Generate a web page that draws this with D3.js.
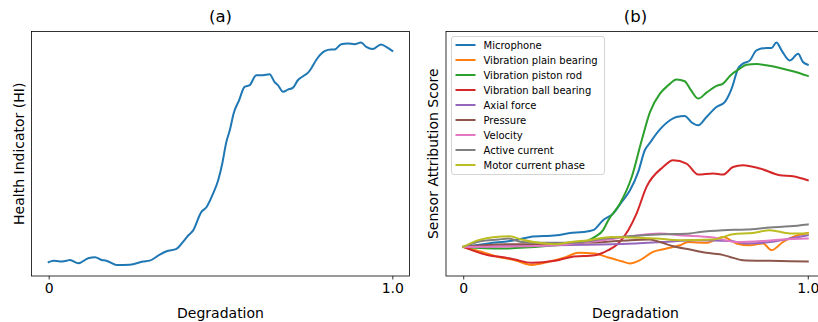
<!DOCTYPE html>
<html>
<head>
<meta charset="utf-8">
<script src="https://cdn.jsdelivr.net/npm/d3@7"></script>
<style>
  body { margin: 0; background: #fff; }
  svg { display: block; font-family: "DejaVu Sans", sans-serif; }
</style>
</head>
<body>
<svg id="chart" width="818" height="322"></svg>
<script>
// panel (a): health indicator vs degradation
const hiValues = [
  [0, 0.015], [0.014, 0.022], [0.033, 0.018], [0.052, 0.022], [0.062, 0.025], [0.086, 0.010],
  [0.115, 0.033], [0.135, 0.037], [0.154, 0.025], [0.168, 0.022], [0.197, 0.003], [0.236, 0.004],
  [0.275, 0.018], [0.294, 0.022], [0.323, 0.049], [0.343, 0.064], [0.372, 0.075], [0.391, 0.106],
  [0.406, 0.135], [0.420, 0.157], [0.444, 0.240], [0.459, 0.262], [0.478, 0.322], [0.493, 0.382],
  [0.505, 0.457], [0.517, 0.555], [0.527, 0.607], [0.538, 0.682], [0.554, 0.742], [0.570, 0.802],
  [0.585, 0.810], [0.604, 0.855], [0.623, 0.855], [0.643, 0.859], [0.657, 0.825], [0.667, 0.810],
  [0.682, 0.780], [0.696, 0.790], [0.711, 0.799], [0.725, 0.832], [0.740, 0.850], [0.754, 0.865],
  [0.764, 0.885], [0.778, 0.922], [0.803, 0.963], [0.822, 0.970], [0.832, 0.970], [0.851, 0.994],
  [0.870, 0.997], [0.890, 0.994], [0.909, 1.001], [0.924, 0.982], [0.943, 0.972], [0.967, 0.993],
  [0.982, 0.982], [1.0, 0.964]
];

// panel (b): sensor attribution scores
const sensorNames = [
  "Microphone", "Vibration plain bearing", "Vibration piston rod", "Vibration ball bearing",
  "Axial force", "Pressure", "Velocity", "Active current", "Motor current phase"
];
const sensorColors = ["#1f77b4", "#ff7f0e", "#2ca02c", "#d62728", "#9467bd", "#8c564b", "#e377c2", "#7f7f7f", "#bcbd22"];

const microphone = [
  [0, 0], [0.073, 0.017], [0.150, 0.033], [0.194, 0.049], [0.271, 0.057], [0.310, 0.068],
  [0.348, 0.073], [0.377, 0.082], [0.406, 0.131], [0.435, 0.163], [0.460, 0.220], [0.484, 0.277],
  [0.508, 0.367], [0.527, 0.473], [0.542, 0.510], [0.571, 0.575], [0.600, 0.620], [0.619, 0.636],
  [0.643, 0.641], [0.663, 0.609], [0.682, 0.595], [0.706, 0.636], [0.735, 0.685], [0.759, 0.709],
  [0.779, 0.775], [0.798, 0.873], [0.812, 0.897], [0.832, 0.913], [0.851, 0.962], [0.880, 0.974],
  [0.895, 0.974], [0.909, 1.0], [0.924, 0.962], [0.948, 0.913], [0.972, 0.946], [0.986, 0.905],
  [1.0, 0.892]
];
const plainBearing = [
  [0, 0], [0.053, -0.024], [0.102, -0.049], [0.150, -0.065], [0.198, -0.088], [0.247, -0.073],
  [0.295, -0.052], [0.334, -0.029], [0.382, -0.032], [0.421, -0.052], [0.460, -0.070], [0.484, -0.081],
  [0.513, -0.065], [0.551, -0.024], [0.590, -0.008], [0.629, 0.008], [0.653, 0.024], [0.706, 0.020],
  [0.754, 0.049], [0.793, 0.017], [0.832, 0.008], [0.870, 0.017], [0.895, -0.016], [0.928, 0.024],
  [0.957, 0.049], [1.0, 0.068]
];
const pistonRod = [
  [0, 0], [0.111, -0.008], [0.271, 0.008], [0.334, 0.017], [0.382, 0.049], [0.406, 0.082],
  [0.421, 0.131], [0.455, 0.212], [0.489, 0.342], [0.518, 0.522], [0.542, 0.660], [0.571, 0.750],
  [0.595, 0.791], [0.619, 0.820], [0.643, 0.811], [0.658, 0.775], [0.682, 0.726], [0.706, 0.755],
  [0.735, 0.788], [0.754, 0.799], [0.774, 0.837], [0.803, 0.873], [0.822, 0.892], [0.851, 0.895],
  [0.880, 0.889], [0.919, 0.876], [0.957, 0.860], [1.0, 0.837]
];
const ballBearing = [
  [0, 0], [0.073, -0.041], [0.121, -0.052], [0.150, -0.062], [0.198, -0.078], [0.266, -0.068],
  [0.314, -0.049], [0.382, -0.041], [0.421, -0.016], [0.450, 0.017], [0.479, 0.082], [0.503, 0.163],
  [0.532, 0.294], [0.580, 0.391], [0.609, 0.424], [0.648, 0.408], [0.682, 0.354], [0.725, 0.359],
  [0.754, 0.354], [0.783, 0.391], [0.812, 0.400], [0.861, 0.384], [0.919, 0.351], [0.957, 0.346],
  [1.0, 0.326]
];
const axialForce = [
  [0, 0], [0.150, 0.005], [0.266, 0.008], [0.400, 0.012], [0.498, 0.017], [0.580, 0.024],
  [0.677, 0.033], [0.774, 0.029], [0.822, 0.017], [0.890, 0.024], [0.948, 0.041], [1.0, 0.057]
];
const pressure = [
  [0, 0], [0.121, 0.013], [0.218, 0.013], [0.314, 0.020], [0.411, 0.024], [0.484, 0.033],
  [0.542, 0.036], [0.571, 0.024], [0.609, 0.003], [0.658, -0.013], [0.706, -0.029], [0.745, -0.036],
  [0.774, -0.049], [0.812, -0.065], [0.890, -0.068], [1.0, -0.071]
];
const velocity = [
  [0, 0], [0.169, 0.003], [0.266, 0.008], [0.363, 0.024], [0.421, 0.036], [0.484, 0.052],
  [0.571, 0.066], [0.629, 0.057], [0.725, 0.046], [0.793, 0.024], [0.870, 0.029], [0.928, 0.036],
  [1.0, 0.041]
];
const activeCurrent = [
  [0, 0], [0.053, 0.029], [0.102, 0.036], [0.131, 0.041], [0.169, 0.024], [0.227, 0.020],
  [0.314, 0.020], [0.411, 0.041], [0.484, 0.052], [0.580, 0.062], [0.658, 0.066], [0.687, 0.073],
  [0.754, 0.082], [0.822, 0.085], [0.890, 0.095], [0.948, 0.101], [1.0, 0.110]
];
const motorPhase = [
  [0, 0], [0.044, 0.033], [0.092, 0.049], [0.135, 0.052], [0.169, 0.036], [0.218, 0.020],
  [0.266, 0.013], [0.314, 0.024], [0.363, 0.033], [0.431, 0.049], [0.484, 0.046], [0.561, 0.041],
  [0.629, 0.033], [0.725, 0.036], [0.783, 0.062], [0.841, 0.068], [0.890, 0.082], [0.948, 0.066],
  [1.0, 0.066]
];
const sensorSeries = [microphone, plainBearing, pistonRod, ballBearing, axialForce, pressure, velocity, activeCurrent, motorPhase];

const xTickValues = [0, 1];
const xTickLabels = ["0", "1.0"];

const svg = d3.select("#chart");
const plotTop = 31.5, plotBottom = 276;

// matplotlib style 5% margin around the data
function padded(extent) {
  const p = (extent[1] - extent[0]) * 0.05;
  return [extent[0] - p, extent[1] + p];
}

function drawPanel(left, right, title, ylabel, series, colors) {
  const x = d3.scaleLinear().domain(padded([0, 1])).range([left, right]);
  const allY = series.flat().map(d => d[1]);
  const y = d3.scaleLinear().domain(padded(d3.extent(allY))).range([plotBottom, plotTop]);

  const g = svg.append("g");
  const line = d3.line().x(d => x(d[0])).y(d => y(d[1])).curve(d3.curveMonotoneX);

  series.forEach((s, i) => {
    g.append("path")
      .datum(s)
      .attr("d", line)
      .attr("fill", "none")
      .attr("stroke", colors[i])
      .attr("stroke-width", 2)
      .attr("stroke-linejoin", "round")
      .attr("stroke-linecap", "square");
  });

  // x axis: only two ticks
  const xAxis = d3.axisBottom(x)
    .tickValues(xTickValues)
    .tickFormat((d, i) => xTickLabels[i])
    .tickSize(3.5)
    .tickPadding(3.5);
  const ax = g.append("g").attr("transform", `translate(0,${plotBottom})`).call(xAxis);
  ax.select(".domain").remove();
  ax.selectAll("line").attr("stroke", "#000").attr("stroke-width", 0.8);
  ax.selectAll("text").attr("font-size", 14).attr("fill", "#000")
    .attr("font-family", "DejaVu Sans");

  // frame
  g.append("rect")
    .attr("x", left).attr("y", plotTop)
    .attr("width", right - left).attr("height", plotBottom - plotTop)
    .attr("fill", "none").attr("stroke", "#000").attr("stroke-width", 0.8);

  g.append("text")
    .attr("x", (left + right) / 2).attr("y", 22)
    .attr("text-anchor", "middle").attr("font-size", 16.5)
    .text(title);

  g.append("text")
    .attr("x", (left + right) / 2).attr("y", 318)
    .attr("text-anchor", "middle").attr("font-size", 14)
    .text("Degradation");

  g.append("text")
    .attr("transform", `translate(${left - 8},${(plotTop + plotBottom) / 2}) rotate(-90)`)
    .attr("text-anchor", "middle").attr("font-size", 14)
    .text(ylabel);

  return g;
}

drawPanel(31.5, 409.5, "(a)", "Health Indicator (HI)", [hiValues], ["#1f77b4"]);
const gb = drawPanel(446, 825, "(b)", "Sensor Attribution Score", sensorSeries, sensorColors);

// legend
const legend = gb.append("g").attr("transform", "translate(451.5,36.5)");
legend.append("rect")
  .attr("width", 153).attr("height", 138).attr("rx", 2.5)
  .attr("fill", "#fff").attr("fill-opacity", 0.8)
  .attr("stroke", "#d4d4d4").attr("stroke-width", 1);
sensorNames.forEach((name, i) => {
  const row = legend.append("g").attr("transform", `translate(0,${8.5 + i * 15})`);
  row.append("line")
    .attr("x1", 4).attr("x2", 24)
    .attr("stroke", sensorColors[i]).attr("stroke-width", 2);
  row.append("text")
    .attr("x", 32).attr("y", 3.6)
    .attr("font-size", 10).attr("fill", "#000")
    .text(name);
});
</script>
</body>
</html>
